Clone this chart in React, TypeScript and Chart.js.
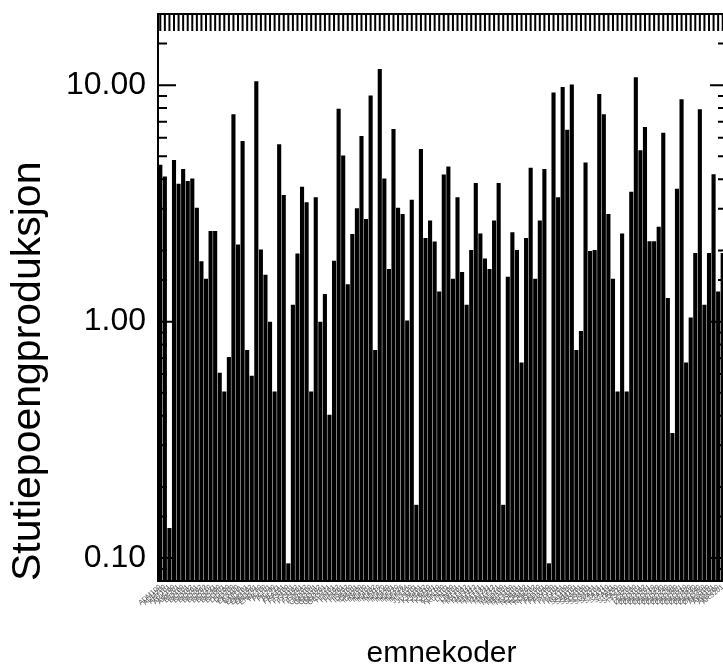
import React, { useEffect, useRef } from "react";
import { Chart, registerables } from "chart.js";

Chart.register(...registerables);

const categories: string[] = (
  "ADM100 ADM200 ANT101 ARK100 ARK201 BIO100 BIO101 BIO102 BIO201 BIO202 " +
  "BIO203 BIO210 BIO231 BIO300 BIO301 DID100 DID200 EKS100 EXPHIL ENG101 " +
  "ENG102 ENG201 ENG250 FIL100 FIL101 FIL200 FIL211 FRA101 FYS100 FYS101 " +
  "FYS102 FYS201 FYS202 GEO100 GEO101 GEO102 GEO201 GEO221 HIS101 HIS102 " +
  "HIS201 HIS202 IDR100 IDR101 IDR200 INF100 INF101 INF102 INF110 INF120 " +
  "INF140 INF201 INF220 INF226 INF234 JUS100 JUS101 KJE101 KJE102 KJE110 " +
  "KJE201 KJE210 KUN100 KUN101 LIN100 LIN101 MAT101 MAT102 MAT111 MAT112 " +
  "MAT121 MAT131 MAT211 MAT212 MAT221 MED100 MED101 MUS100 MUS101 NOR101 " +
  "NOR102 NOR201 NOR202 PED100 PED101 PED200 PSY100 PSY101 PSY201 RET100 " +
  "SAM100 SAM101 SAM201 SOS100 SOS101 SOS201 SPA101 STA101 STA110 STA111 " +
  "STA200 STA210 TYS101 TYS201 ØKO100 ØKO101 ØKO102 ØKO201 ØKO210 ØKO220 " +
  "ØKO230 ØKO240 ØKO250 ØKO300 ØKO301 ØKO310 ØKO320 ØKO330 ØKO340 ØKO350 " +
  "ÅRS100 ÅRS101 ÅRS200 ÅRS201"
).split(" ");

const studiepoeng: number[] = [
  4.61, 4.11, 0.134, 4.83, 3.83, 4.42, 3.93, 4.03, 3.03, 1.80,
  1.52, 2.42, 2.42, 0.608, 0.506, 0.709, 7.53, 2.12, 5.81, 0.758,
  0.591, 10.4, 2.02, 1.58, 1.0, 0.506, 5.62, 3.43, 0.095, 1.18,
  1.94, 3.72, 3.20, 0.506, 3.36, 1.0, 1.31, 0.404, 1.81, 7.94,
  5.04, 1.44, 2.35, 3.02, 6.10, 2.72, 9.05, 0.758, 11.7, 4.03,
  1.67, 6.53, 3.03, 2.85, 1.01, 3.28, 0.168, 5.37, 2.26, 2.68,
  2.18, 1.34, 4.19, 4.53, 1.52, 3.36, 1.62, 1.18, 2.01, 3.86,
  2.36, 1.85, 1.67, 2.68, 3.86, 0.168, 1.55, 2.39, 2.01, 0.672,
  2.26, 4.48, 1.52, 2.68, 4.42, 0.095, 9.31, 3.36, 9.82, 6.48,
  10.07, 0.758, 0.912, 4.71, 1.99, 2.01, 9.18, 7.53, 2.85, 1.52,
  0.506, 2.36, 0.506, 3.54, 10.8, 5.31, 6.65, 2.19, 2.19, 2.52,
  6.30, 1.26, 0.338, 3.65, 8.71, 0.672, 1.04, 1.95, 7.91, 1.18,
  1.95, 4.20, 1.34, 1.95,
];

const yMin = 0.08;
const yMax = 20;
const yTitle = "Stutiepoengproduksjon";
const xTitle = "emnekoder";

const FONT = "'Liberation Sans', Arial, Helvetica, sans-serif";

const framePlugin = {
  id: "frame",
  afterDatasetsDraw(chart: any) {
    const { ctx, chartArea: a, scales } = chart;
    const xs = scales.x;
    const ys = scales.y;
    ctx.save();
    ctx.strokeStyle = "#000";
    ctx.lineWidth = 2;
    ctx.strokeRect(a.left, a.top, a.right - a.left, a.bottom - a.top);
    ctx.lineWidth = 2;
    ctx.beginPath();
    for (let i = 0; i < xs.ticks.length; i++) {
      const x = xs.getPixelForTick(i);
      ctx.moveTo(x, a.top);
      ctx.lineTo(x, a.top + 17);
    }
    ctx.stroke();
    ctx.lineWidth = 2;
    ctx.beginPath();
    ys.ticks.forEach((t: any) => {
      const y = ys.getPixelForValue(t.value);
      const lg = Math.log10(t.value);
      const major = Math.abs(lg - Math.round(lg)) < 1e-6;
      ctx.moveTo(a.left, y);
      ctx.lineTo(a.left + (major ? 18 : 9), y);
      ctx.moveTo(a.right, y);
      ctx.lineTo(a.right - (major ? 15 : 7), y);
    });
    ctx.stroke();
    ctx.restore();
  },
};

function zeroPad(scale: any) {
  scale.paddingLeft = 0;
  scale.paddingRight = 0;
  scale.paddingTop = 0;
  scale.paddingBottom = 0;
}

export default function App() {
  const ref = useRef<HTMLCanvasElement>(null);
  useEffect(() => {
    if (!ref.current) return;
    const chart = new Chart(ref.current, {
      type: "bar",
      data: {
        labels: categories,
        datasets: [
          {
            data: studiepoeng,
            backgroundColor: "#000",
            borderWidth: 0,
            barPercentage: 0.9,
            categoryPercentage: 1,
          },
        ],
      },
      options: {
        responsive: false,
        animation: false,
        devicePixelRatio: 1,
        layout: { padding: { top: 6, right: 5, left: 0, bottom: 0 } },
        plugins: {
          legend: { display: false },
          tooltip: { enabled: false },
        },
        scales: {
          x: {
            type: "category",
            grid: { display: false, drawTicks: false },
            border: { display: false },
            ticks: {
              autoSkip: false,
              minRotation: 40,
              maxRotation: 40,
              font: { size: 7, family: FONT },
              color: "#555",
              padding: 2,
            },
            title: {
              display: true,
              text: xTitle,
              color: "#000",
              font: { size: 30, family: FONT, lineHeight: 1 },
              padding: { top: 0, bottom: 0 },
            },
            afterFit: (s: any) => {
              s.height = 88;
              zeroPad(s);
            },
          },
          y: {
            type: "logarithmic",
            min: yMin,
            max: yMax,
            grid: { display: false, drawTicks: false },
            border: { display: false },
            ticks: {
              autoSkip: false,
              padding: 12,
              color: "#000",
              font: { size: 32, family: FONT },
              callback: (v: any) => {
                const lg = Math.log10(Number(v));
                return Math.abs(lg - Math.round(lg)) < 1e-6 ? Number(v).toFixed(2) : "";
              },
            },
            title: {
              display: true,
              text: yTitle,
              align: "start",
              color: "#000",
              font: { size: 41, family: FONT, lineHeight: 1 },
              padding: { top: 0, bottom: 0 },
            },
            afterFit: (s: any) => {
              s.width = 150;
              zeroPad(s);
            },
          },
        },
      },
      plugins: [framePlugin],
    });
    return () => chart.destroy();
  }, []);
  return (
    <div
      style={{
        position: "absolute",
        left: 8,
        top: 8,
        width: 715,
        height: 661,
        overflow: "hidden",
        background: "#fff",
      }}
    >
      <canvas ref={ref} width={722} height={661} style={{ display: "block" }} />
    </div>
  );
}
